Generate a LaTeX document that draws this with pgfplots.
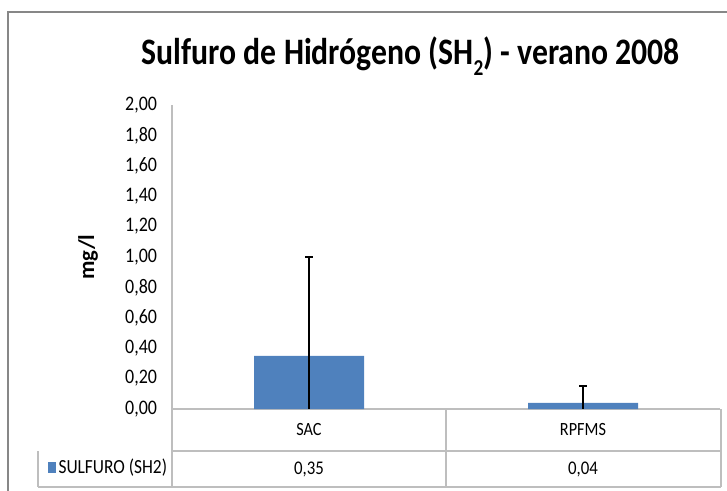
\documentclass[border=0pt]{standalone}
\usepackage{fontspec}
\setmainfont{Carlito}[FakeStretch=0.87]
\newfontfamily\titlefont{Carlito}[FakeStretch=0.85]
\newfontfamily\labelfont{Carlito}
\usepackage{pgfplots}
\pgfplotsset{compat=1.18}
\definecolor{barblue}{RGB}{79,129,189}
\definecolor{linegray}{RGB}{190,190,190}
\definecolor{framegray}{RGB}{135,135,135}
\begin{document}
\begin{tikzpicture}
\useasboundingbox (0,0) rectangle (545.25pt,-368.25pt);
% outer chart frame
\draw[framegray, line width=1.5pt] (6pt,-9pt) rectangle (560pt,-380pt);
\begin{axis}[
    at={(129pt,-306.75pt)}, anchor=south west,
    scale only axis,
    width=411pt, height=228pt,
    ybar, bar width=82.5pt, bar shift=0pt,
    xmin=-0.5, xmax=1.5,
    ymin=0, ymax=2,
    ytick={0,0.2,...,2.0},
    xtick={0,1},
    xticklabels={SAC,RPFMS},
    axis y line=left, axis x line=bottom,
    axis line style={-, draw=linegray, line width=1.1pt},
    major tick length=0pt,
    clip=false,
    /pgf/number format/.cd, fixed, fixed zerofill, precision=2, use comma, assume math mode=true,
    /pgfplots/.cd,
    tick label style={inner sep=0pt},
    yticklabel style={font=\fontsize{15.5}{17}\selectfont, anchor=east, xshift=-11pt},
    xticklabel style={font=\fontsize{14}{16}\selectfont, anchor=center, yshift=-15.75pt},
    title={\titlefont\bfseries Sulfuro de Hidrógeno (SH\raisebox{-0.3em}{\fontsize{17}{17}\selectfont 2}) - verano 2008},
    title style={font=\fontsize{28}{32}\selectfont, at={(axis description cs:0.436,1.135)}, anchor=center},
    ylabel={\labelfont\bfseries mg/l},
    ylabel style={font=\fontsize{17}{19}\selectfont, at={(axis description cs:-0.153,0.5)}, anchor=center, rotate=0},
    legend style={draw=none, fill=none, inner sep=0pt,
        at={(axis description cs:-0.227,-0.1924)}, anchor=west,
        font=\fontsize{15}{17}\selectfont,
        /tikz/every even column/.style={column sep=3pt}},
    legend image code/.code={\fill[barblue] (0pt,-4pt) rectangle (6pt,4pt);},
]
\addplot[fill=barblue, draw=none,
    error bars/.cd, y dir=plus, y explicit,
    error bar style={black, line width=1.5pt},
    error mark options={black, line width=1.5pt, mark size=3pt, rotate=90}]
    coordinates {(0,0.35) +- (0,0.65) (1,0.04) +- (0,0.11)};
\addlegendentry{SULFURO (SH2)}
\addplot[draw=none, fill=none, forget plot,
    error bars/.cd, y dir=minus, y explicit, error mark=none,
    error bar style={black, line width=1.5pt}]
    coordinates {(0,0.35) -= (0,0.35) (1,0.04) -= (0,0.04)};
% data table values
\node[font=\fontsize{14.5}{16}\selectfont] at (axis cs:0,-0.395) {0,35};
\node[font=\fontsize{14.5}{16}\selectfont] at (axis cs:1,-0.395) {0,04};
\end{axis}
% data table grid
\begin{scope}[linegray, line width=1.1pt]
\draw (129pt,-338.25pt) -- (540.75pt,-338.25pt);
\draw (28.5pt,-365.25pt) -- (540.75pt,-365.25pt);
\draw (28.5pt,-338.25pt) -- (28.5pt,-365.25pt);
\draw (129pt,-306.75pt) -- (129pt,-365.25pt);
\draw (334.5pt,-306.75pt) -- (334.5pt,-365.25pt);
\draw (540.75pt,-306.75pt) -- (540.75pt,-365.25pt);
\end{scope}
\end{tikzpicture}
\end{document}
